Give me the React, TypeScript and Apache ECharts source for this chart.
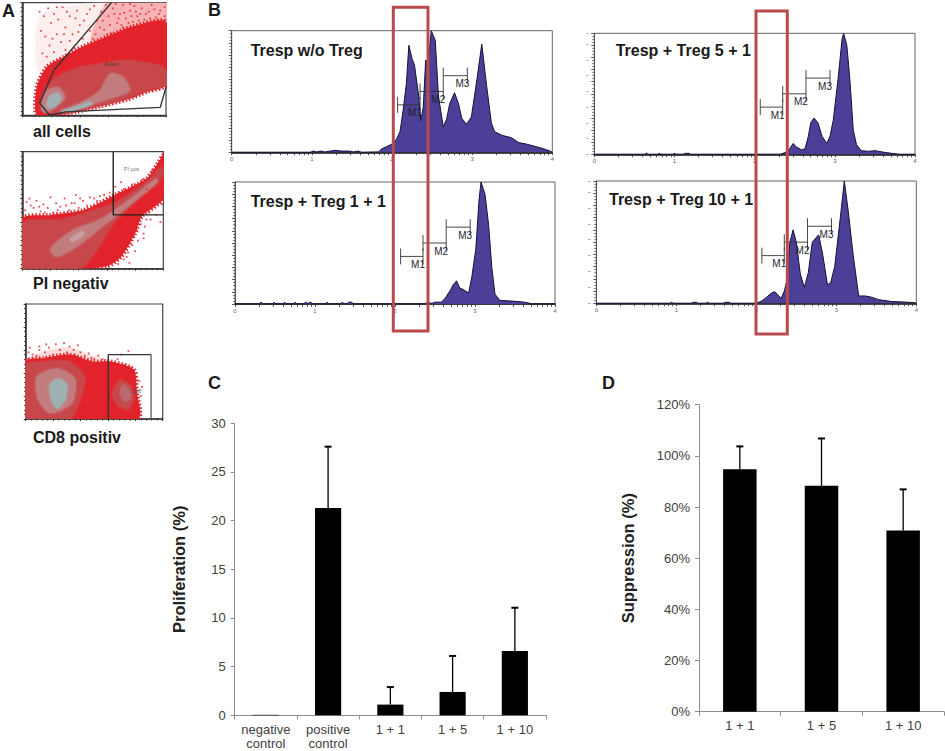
import React, { useEffect, useRef } from "react";
import * as echarts from "echarts";

const FONT = "'Liberation Sans', Arial, sans-serif";

// ---- Panel C / D values
const prolifCategories = ["negative\ncontrol", "positive\ncontrol", "1 + 1", "1 + 5", "1 + 10"];
const prolifMeans = [0.05, 21.3, 1.1, 2.4, 6.6];
const prolifErrTops = [null, 27.6, 2.9, 6.1, 11.05];
const suppCategories = ["1 + 1", "1 + 5", "1 + 10"];
const suppMeans = [94.8, 88.3, 70.8];
const suppErrTops = [103.7, 106.8, 86.9];

// ---- Panel B histograms: [log decade, relative count]
const histWoTreg = [[0,0],[0.98,0],[1.02,1],[1.06,0.3],[1.12,1],[1.16,0.3],[1.29,1.6],[1.37,1],[1.46,1],[1.52,0.3],[1.58,1],[1.62,0],[1.83,0.3],[1.87,2.7],[1.93,4.6],[2,6.8],[2.05,10],[2.1,17],[2.14,35],[2.18,57],[2.21,88],[2.25,77],[2.28,72],[2.33,48],[2.36,26],[2.39,37],[2.42,76],[2.45,73],[2.49,100],[2.54,92],[2.58,46],[2.64,21],[2.68,27],[2.72,40],[2.78,49],[2.83,40],[2.87,28],[2.93,23],[2.99,29],[3.06,60],[3.12,89],[3.18,55],[3.24,24],[3.28,17],[3.37,14],[3.49,12],[3.58,8],[3.66,7],[3.78,5],[3.91,2.5],[3.99,0.5],[4,0]];
const hist1to1 = [[0,0],[0.3,0],[0.325,1.5],[0.35,0],[0.47,0],[0.49,1.5],[0.51,0],[0.6,0],[0.62,1.5],[0.64,0],[0.73,0],[0.75,1.5],[0.77,0],[0.86,0],[0.88,1.5],[0.91,0.4],[0.95,1.5],[0.97,0],[1.13,0],[1.15,1.5],[1.17,0],[1.32,0],[1.34,1.5],[1.37,0],[1.4,0],[1.42,1.5],[1.46,1.5],[1.48,0],[2.375,0],[2.41,1.5],[2.46,0.5],[2.5,1.5],[2.58,1.5],[2.63,5],[2.69,11],[2.73,16],[2.77,19],[2.81,13],[2.85,12],[2.92,9],[2.96,22],[3.01,45],[3.05,85],[3.075,100],[3.125,90],[3.17,65],[3.21,30],[3.25,8],[3.31,3],[3.5,2.2],[3.62,1.5],[3.69,0.5],[3.71,0],[4,0]];
const hist5to1 = [[0,0],[0.63,0],[0.65,1],[0.67,0],[0.79,0],[0.81,0.8],[0.83,0],[0.98,0],[1,0.8],[1.02,0],[1.11,0],[1.13,0.8],[1.18,0.8],[1.2,0],[2.32,0],[2.4,2],[2.44,5],[2.48,9],[2.52,6],[2.59,3.5],[2.63,5],[2.67,15],[2.7,26],[2.74,30],[2.79,26],[2.84,15],[2.9,9],[2.94,15],[2.98,28],[3.04,62],[3.09,95],[3.11,100],[3.15,90],[3.19,60],[3.23,20],[3.27,8],[3.33,3],[3.42,2.5],[3.5,3],[3.63,1.5],[3.75,0.5],[3.81,0],[4,0]];
const hist10to1 = [[0,0],[0.92,0],[0.94,0.8],[0.96,0],[1.19,0],[1.21,0.8],[1.25,0.8],[1.27,0],[1.37,0],[1.39,0.8],[1.41,0],[1.59,0],[1.61,0.8],[1.66,0.8],[1.68,0],[2,0],[2.07,2],[2.13,5],[2.19,8.5],[2.23,9.5],[2.27,7],[2.31,4],[2.35,10],[2.38,18],[2.42,50],[2.46,60],[2.5,50],[2.55,24],[2.6,13],[2.65,25],[2.7,50],[2.78,56],[2.83,40],[2.89,15],[2.93,17],[2.98,30],[3.05,70],[3.1,100],[3.15,75],[3.21,40],[3.28,6],[3.36,6],[3.44,5],[3.53,3],[3.69,1.5],[3.86,1],[3.98,0.5],[4,0]];
const gateNames = ["M1", "M2", "M3"];
const gateStarts = [2.07, 2.35, 2.64];
const gateEnds = [2.35, 2.64, 2.94];
const gateLevels = [39, 50, 63];
const decadeLabels = [0, 1, 2, 3, 4];
const logMultipliers = [1, 2, 3, 4, 5, 6, 7, 8, 9];

// ---- Panel A flow plots (axes 0-100); regions are layered outlines
const a1FaintLeft = [[11,40],[12,88],[30,96],[50,100],[58,100],[50,70],[30,40]];
const a1FaintRight = [[48,66],[60,100],[100,100],[100,72],[70,68]];
const a1Red = [[10,0],[10,25],[17,43],[29,52],[42,61],[59,70],[77,79],[100,83],[100,27],[87,21],[73,14],[54,8],[38,3],[24,0]];
const a1Dark = [[13,8],[15,22],[24,34],[38,42],[54,46],[73,49],[94,45],[100,40],[100,27],[87,22],[73,15],[54,8],[31,3],[17,2]];
const a1PinkA = [[13,6],[17,22],[25,25],[30,16],[24,8],[16,2]];
const a1PinkB = [[26,3],[42,12],[54,22],[61,37],[70,34],[75,22],[59,14],[40,6]];
const a1GreyA = [[17,9],[19,17],[25,20],[27,15],[23,8],[18,6]];
const a1GreyB = [[27,4],[38,8],[47,12],[49,10],[38,5],[30,3]];
const a1Gate = [[62,100],[52,85],[22,40],[12,11],[19,0],[30,3],[96,7],[100,25]];
const a1Speckle = [[12,92],[15,88],[18,95],[20,82],[13,75],[16,70],[22,90],[25,85],[28,96],[30,78],[24,72],[19,62],[14,55],[27,65],[33,88],[35,72],[38,93],[40,80],[42,68],[45,90],[47,75],[36,60],[50,97],[52,84],[55,92],[57,76],[60,88],[63,95],[66,82],[68,90],[70,98],[72,86],[75,93],[78,97],[80,88],[83,95],[85,85],[88,92],[90,98],[93,87],[96,93],[98,84],[65,72],[70,78],[74,82],[80,80],[86,78],[92,79],[96,76],[58,66],[62,73],[48,64],[44,58],[32,52],[26,48],
  [64,90],[67,86],[69,80],[71,91],[73,76],[76,88],[77,83],[79,92],[81,84],[82,90],[84,80],[86,90],[87,83],[89,86],[91,82],[92,94],[94,84],[95,90],[97,80],[99,88],[99,96],[56,84],[54,78],[61,80],[59,72],[51,72],[49,68],[46,62],[40,56],[35,54],[30,58],[22,56],[17,52],[21,68],[29,72],[33,66],[39,74],[43,84],[31,92],[37,86],[24,96],[47,94],[58,98],[65,99],[75,99]];
const a2Red = [[0,43],[20,46],[43,50],[64,62],[88,77],[96,90],[100,97],[100,60],[85,45],[80,30],[70,10],[60,2],[40,0],[0,0]];
const a2Dark = [[0,39],[27,42],[50,50],[65,56],[88,74],[98,87],[100,81],[95,73],[79,56],[65,39],[53,16],[41,0],[0,0]];
const a2Pink = [[20,17],[36,33],[55,42],[79,62],[95,77],[96,74],[81,59],[57,36],[39,19],[24,10]];
const a2Light = [[34,26],[43,32],[44,29],[35,23]];
const a2Gate = [[64.5,100],[64.5,46],[100,46]];
const a2Speckle = [[2,50],[3,57],[5,60],[8,52],[10,58],[13,49],[15,55],[18,52],[20,61],[22,48],[24,56],[27,53],[30,60],[33,50],[35,56],[38,63],[40,52],[43,58],[46,54],[48,61],[50,52],[53,58],[56,55],[58,63],[60,57],[62,65],[66,70],[68,64],[70,74],[72,68],[75,66],[78,72],[82,70],[85,76],[88,68],[92,84],[94,80],[97,90],[99,95],[90,58],[92,52],[95,46],[98,40],[99,55],[88,42],[84,38],[86,30],[82,24],[78,20],[75,14],[80,15],[72,8],[76,5],[68,4],[62,6],[65,12],[58,3],[54,1],[90,48],[83,50],[76,40],[74,30],[70,22],
  [86,26],[81,33],[79,28],[73,18],[69,14],[66,8],[74,10],[91,42],[93,60],[96,68],[87,36],[6,54],[12,53],[16,48],[25,50],[31,54],[37,56],[41,60],[45,50],[51,60],[55,62]];
const a3Faint = [[0,50],[10,57],[30,62],[48,55],[60,50]];
const a3Red = [[0,50],[13,53],[32,56],[49,50],[62,50],[79,43],[81,25],[82,0],[0,0]];
const a3DarkL = [[0,47],[13,50],[32,50],[43,37],[40,17],[32,0],[0,0]];
const a3DarkR = [[69,34],[77,28],[79,19],[75,8],[68,11],[63,22]];
const a3Pink = [[8,37],[23,44],[36,35],[34,14],[18,5],[9,17]];
const a3PinkR = [[71,30],[76,25],[76,17],[72,15],[69,22]];
const a3Grey = [[18,31],[24,35],[30,30],[29,17],[23,9],[18,19]];
const a3GateL = [[60.3,0],[60.3,56],[91.5,56]];
const a3GateR = [[91.5,56],[91.5,0]];
const a3Speckle = [[1,52],[2,58],[5,56],[8,55],[10,60],[14,58],[17,62],[20,56],[22,65],[25,60],[28,66],[30,58],[32,63],[35,60],[36,55],[38,64],[40,58],[43,55],[46,57],[48,53],[50,52],[53,55],[56,52],[60,51],[10,63],[15,65],[64,48],[67,52],[72,47],[76,45],[78,40],[83,33],[84,20],[83,10],[85,28],[70,56],[75,59],[3,62]];

const RED = "#e2232b", DARK = "#c8474b", PINK = "#c27c7e", GREY = "#9fb0b3", FAINT = "#fad9d9";

function buildOption() {
  const grid: any[] = [], xAxis: any[] = [], yAxis: any[] = [], series: any[] = [];
  const box = (l: number, t: number, r: number, b: number, border: string, bw: number) => {
    grid.push({ left: l, top: t, width: r - l, height: b - t, show: true, borderColor: border, borderWidth: bw, backgroundColor: "transparent", outerBoundsMode: "none" });
    return grid.length - 1;
  };

  const polygon = (g: number, pts: number[][], fill: string, fuzzy = false) => series.push({
    type: "custom", xAxisIndex: g, yAxisIndex: g, silent: true, clip: true,
    data: [pts[0]],
    renderItem: (_: any, api: any) => ({
      type: "polygon",
      shape: { points: pts.map((p) => api.coord(p)), smooth: 0.25 },
      style: fuzzy
        ? { fill, stroke: fill, lineWidth: 4, lineDash: [1.5, 2] }
        : { fill, shadowBlur: 3, shadowColor: fill },
    }),
  });
  const outline = (g: number, pts: number[][], color: string, width: number) => series.push({
    type: "line", xAxisIndex: g, yAxisIndex: g, data: pts, showSymbol: false, silent: true, z: 5,
    lineStyle: { color, width },
  });
  const speckle = (g: number, pts: number[][]) => series.push({
    type: "scatter", xAxisIndex: g, yAxisIndex: g, data: pts, symbol: "rect", symbolSize: 1.8, silent: true,
    itemStyle: { color: RED },
  });
  const flowAxes = (g: number) => {
    const common = { type: "value", gridIndex: g, min: 0, max: 100, interval: 20, axisLine: { show: true, lineStyle: { color: "#333", width: 1.5 } },
      axisTick: { length: 2, lineStyle: { color: "#333" } }, minorTick: { show: true, splitNumber: 5, length: 1.5, lineStyle: { color: "#333" } },
      axisLabel: { show: false }, splitLine: { show: false }, minorSplitLine: { show: false } };
    xAxis.push({ ...common });
    yAxis.push({ ...common });
  };
  const tag = (g: number, text: string, x: number, y: number, color: string) => series.push({
    type: "scatter", xAxisIndex: g, yAxisIndex: g, data: [[x, y]], symbolSize: 1, silent: true, z: 6, itemStyle: { color: "transparent" },
    label: { show: true, position: "inside", formatter: text, fontSize: 5.5, color, fontFamily: FONT },
  });

  // Panel A
  let g = box(22.3, 2.7, 166, 115.3, "#444", 1.2); flowAxes(g);
  polygon(g, a1FaintLeft, "#fdeeee"); polygon(g, a1FaintRight, "#f8b4b4"); polygon(g, a1Red, RED, true); polygon(g, a1Dark, DARK);
  polygon(g, a1PinkA, PINK); polygon(g, a1PinkB, PINK); polygon(g, a1GreyA, GREY); polygon(g, a1GreyB, GREY);
  speckle(g, a1Speckle);
  outline(g, a1Gate, "#333", 1.4); tag(g, "Zellen", 62, 46, "#333");

  g = box(22.3, 151.7, 163.3, 268.7, "#444", 1.2); flowAxes(g);
  polygon(g, a2Red, RED, true); polygon(g, a2Dark, DARK); polygon(g, a2Pink, PINK); polygon(g, a2Light, "#c9a0a0");
  speckle(g, a2Speckle);
  outline(g, a2Gate, "#222", 1.4); tag(g, "PI pos", 77.5, 85, "#556");

  g = box(25.7, 304, 162.7, 419, "#444", 1.2); flowAxes(g);
  polygon(g, a3Faint, FAINT); polygon(g, a3Red, RED, true); polygon(g, a3DarkL, DARK); polygon(g, a3DarkR, DARK);
  polygon(g, a3Pink, PINK); polygon(g, a3PinkR, "#b86a6c"); polygon(g, a3Grey, GREY);
  speckle(g, a3Speckle);
  outline(g, a3GateL, "#333", 1.4); outline(g, a3GateR, "#666", 1.4); tag(g, "CD8", 80.5, 24, "#345");

  // Panel B
  const logTicks: number[] = [];
  decadeLabels.slice(0, 4).forEach((d) => logMultipliers.forEach((m) => logTicks.push(d + Math.log10(m))));
  logTicks.push(4);
  const extras: any[] = [];
  const hist = (l: number, t: number, r: number, b: number, data: number[][], markColor: string | null) => {
    const i = box(l, t, r, b, "#666", 1);
    xAxis.push({ type: "value", gridIndex: i, min: 0, max: 4, axisLine: { show: true, lineStyle: { color: "#111", width: 1.5 } },
      axisTick: { show: true, length: 3, customValues: logTicks, lineStyle: { color: "#333", width: 0.8 } },
      axisLabel: { show: true, customValues: decadeLabels, fontSize: 6, color: "#666", margin: 4, fontFamily: FONT },
      splitLine: { show: false } });
    yAxis.push({ type: "value", gridIndex: i, min: 0, max: 100, interval: 10, axisLine: { show: true, lineStyle: { color: "#555", width: 1 } },
      axisTick: { length: 3, lineStyle: { color: "#333", width: 0.8 } },
      minorTick: { show: true, splitNumber: 4, length: 2, lineStyle: { color: "#444", width: 0.7 } },
      axisLabel: { show: false }, splitLine: { show: false }, minorSplitLine: { show: false } });
    series.push({ type: "line", xAxisIndex: i, yAxisIndex: i, data, showSymbol: false, silent: true,
      lineStyle: { color: "#15123a", width: 1 }, areaStyle: { color: "#4b3f97", opacity: 1 } });
    series.push({ type: "custom", xAxisIndex: i, yAxisIndex: i, silent: true, z: 6, clip: false,
      data: gateNames.map((_, k) => [gateStarts[k], gateLevels[k], gateEnds[k]]),
      encode: { x: [0, 2], y: 1 },
      renderItem: (p: any, api: any) => {
        const k = p.dataIndex;
        const a = api.coord([gateStarts[k], gateLevels[k]]);
        const c = api.coord([gateEnds[k], gateLevels[k]]);
        const line = (x1: number, y1: number, x2: number, y2: number) => ({ type: "line", shape: { x1, y1, x2, y2 }, style: { stroke: "#333", lineWidth: 0.9 } });
        return { type: "group", children: [
          line(a[0], a[1], c[0], c[1]), line(a[0], a[1] - 8, a[0], a[1] + 8), line(c[0], c[1] - 8, c[0], c[1] + 8),
          { type: "text", x: c[0] - 5, y: c[1] + 8, style: { text: gateNames[k], fontSize: 10, fontFamily: FONT, fill: "#1e1e30", align: "center", verticalAlign: "middle" } },
        ] };
      } });
    if (markColor) {
      // faint secondary scale marks to the left of the plot
      extras.push({ type: "value", gridIndex: i, min: 0, max: 100, interval: 13, position: "left", offset: 6,
        axisLine: { show: false }, axisTick: { show: true, length: 2, lineStyle: { color: markColor, width: 1 } }, axisLabel: { show: false }, splitLine: { show: false } });
    }
  };
  hist(231.7, 30.7, 552.3, 152.3, histWoTreg, null);
  hist(235, 182, 555, 304, hist1to1, null);
  hist(594.3, 33.3, 915, 154.3, hist5to1, "#7fb0d8");
  hist(596.3, 181, 916.3, 303.3, hist10to1, "#999");

  // Panels C and D
  const bars = (l: number, t: number, r: number, b: number, cats: string[], means: number[], tops: any[], max: number, interval: number, fmt: string, name: string, gap: number, barWidth: string, labelMargin: number) => {
    const i = box(l, t, r, b, "transparent", 0);
    const axisLine = { show: true, lineStyle: { color: "#8c8c8c", width: 1 } };
    xAxis.push({ type: "category", gridIndex: i, data: cats, axisLine, axisTick: { show: true, length: 4, lineStyle: { color: "#8c8c8c" } },
      axisLabel: { color: "#404040", fontSize: 13, lineHeight: 14, margin: labelMargin, fontFamily: FONT, interval: 0 } });
    yAxis.push({ type: "value", gridIndex: i, min: 0, max, interval, axisLine, axisTick: { show: true, length: 4, lineStyle: { color: "#8c8c8c" } },
      axisLabel: { color: "#404040", fontSize: 13, margin: 9, formatter: fmt, fontFamily: FONT }, splitLine: { show: false },
      name, nameLocation: "middle", nameGap: gap, nameTextStyle: { fontSize: 16.5, fontWeight: "bold", color: "#222", fontFamily: FONT } });
    series.push({ type: "bar", xAxisIndex: i, yAxisIndex: i, data: means, barWidth, silent: true, itemStyle: { color: "#000" } });
    series.push({ type: "custom", xAxisIndex: i, yAxisIndex: i, silent: true, z: 4,
      data: tops.map((top, k) => [k, means[k], top]).filter((d) => d[2] !== null),
      encode: { x: 0, y: [1, 2] },
      renderItem: (_: any, api: any) => {
        const a = api.coord([api.value(0), api.value(1)]);
        const c = api.coord([api.value(0), api.value(2)]);
        return { type: "group", children: [
          { type: "line", shape: { x1: a[0], y1: a[1], x2: c[0], y2: c[1] }, style: { stroke: "#000", lineWidth: 1.3 } },
          { type: "line", shape: { x1: c[0] - 3.5, y1: c[1], x2: c[0] + 3.5, y2: c[1] }, style: { stroke: "#000", lineWidth: 2 } },
        ] };
      } });
  };
  bars(234.7, 423.3, 546, 715.3, prolifCategories, prolifMeans, prolifErrTops, 30, 5, "{value}", "Proliferation (%)", 47, "42%", 7);
  bars(699, 404.7, 944, 711.7, suppCategories, suppMeans, suppErrTops, 120, 20, "{value}%", "Suppression (%)", 63, "41%", 7);
  extras.forEach((e) => yAxis.push(e));

  const label = (text: string, x: number, y: number, size: number) => ({
    type: "text", x, y, z: 50, style: { text, fontSize: size, fontWeight: "bold", fontFamily: FONT, fill: "#1a1a1a", verticalAlign: "middle", align: "left" },
  });
  const redBox = (x: number, y: number, w: number, h: number) => ({
    type: "rect", z: 60, shape: { x, y, width: w, height: h }, style: { fill: "none", stroke: "#bb4a4c", lineWidth: 3 },
  });
  const graphic = [
    label("A", 2, 11, 18), label("B", 208, 10, 18), label("C", 208, 383, 18), label("D", 602, 383, 18),
    label("all cells", 33, 131, 16), label("PI negativ", 33, 283, 16), label("CD8 positiv", 33, 437, 16),
    label("Tresp w/o Treg", 250.7, 50, 16), label("Tresp + Treg 1 + 1", 250.7, 201.7, 16),
    label("Tresp + Treg 5 + 1", 615.7, 50, 16), label("Tresp + Treg 10 + 1", 609, 199.3, 16),
    redBox(393.3, 7.3, 34.7, 323.7), redBox(756, 11, 31.3, 323),
  ];

  return { animation: false, backgroundColor: "#fff", grid, xAxis, yAxis, series, graphic, tooltip: { show: false } };
}

export default function App() {
  const ref = useRef<HTMLDivElement>(null);
  useEffect(() => {
    document.body.style.margin = "0";
    const chart = echarts.init(ref.current!, undefined, { renderer: "svg" });
    chart.setOption(buildOption() as any);
    return () => chart.dispose();
  }, []);
  return <div ref={ref} style={{ width: 945, height: 751 }} />;
}
